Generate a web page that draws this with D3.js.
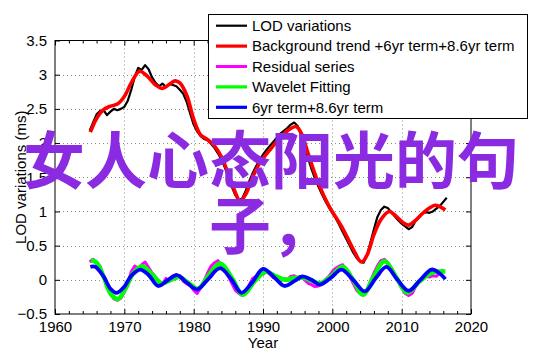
<!DOCTYPE html>
<html><head><meta charset="utf-8">
<script src="https://cdn.jsdelivr.net/npm/d3@7"></script>
<style>
html,body{margin:0;padding:0;background:#fff;}
svg{display:block;}
</style></head>
<body>
<svg id="c" width="542" height="356"></svg>
<script>
// ---------- data ----------
const xTicks = [1960,1970,1980,1990,2000,2010,2020];
const xMinorTicks = [1962,1964,1966,1968,1972,1974,1976,1978,1982,1984,1986,1988,1992,1994,1996,1998,2002,2004,2006,2008,2012,2014,2016,2018];
const yTicks = [-0.5,0,0.5,1,1.5,2,2.5,3,3.5];
const yTickLabels = ["\u22120.5","0","0.5","1","1.5","2","2.5","3","3.5"];
const legendLabels = ["LOD variations","Background trend +6yr term+8.6yr term","Residual series","Wavelet Fitting","6yr term+8.6yr term"];
const seriesColors = ["#000000","#ff0000","#ff00ff","#00ff00","#0000ff"];
const overlayText = ["女人心态阳光的句","子，"];

// LOD variations, half-year samples 1965 .. 2016.5
const lodYears = d3.range(1965, 2016.51, 0.5);
const lodValues = [2.18,2.30,2.42,2.47,2.48,2.41,2.46,2.50,2.48,2.50,2.53,2.62,2.78,2.97,3.10,3.07,3.14,3.08,2.96,2.88,
2.83,2.87,2.82,2.86,2.85,2.83,2.78,2.72,2.60,2.43,2.27,2.17,2.10,2.06,2.04,1.99,1.93,1.85,1.76,1.64,
1.50,1.36,1.24,1.16,1.19,1.30,1.44,1.56,1.66,1.75,1.83,1.90,1.96,2.02,2.08,2.14,2.18,2.22,2.27,2.30,
2.25,2.12,1.95,1.78,1.62,1.48,1.36,1.25,1.15,1.06,0.98,0.90,0.80,0.70,0.60,0.50,0.40,0.32,0.27,0.25,
0.36,0.55,0.74,0.92,1.02,1.07,1.05,0.99,0.93,0.87,0.82,0.78,0.74,0.77,0.86,0.92,0.97,0.99,0.98,1.00,
1.04,1.08,1.14,1.20];

// Background trend + 6yr + 8.6yr
const trendYears = [1965.1,1966,1967,1968,1969,1970,1971,1972.2,1973.3,1974.5,1975.5,1976.5,1977.3,1978,1979,1980,1981,1982,1983,1984,1985,1986,1986.7,1987.5,1988.5,1989.6,1991,1992.5,1993.8,1994.8,1995.5,1996.5,1998,1999.5,2001.5,2003,2004.2,2005,2006,2007,2008.2,2009.3,2010.3,2011,2012,2013,2014,2014.8,2015.5,2016.3];
const trendValues = [2.16,2.36,2.49,2.54,2.57,2.68,2.88,3.05,2.98,2.85,2.80,2.86,2.91,2.88,2.70,2.35,2.12,2.05,1.96,1.80,1.55,1.28,1.15,1.25,1.50,1.72,1.90,2.08,2.20,2.24,2.15,1.85,1.41,1.08,0.75,0.45,0.26,0.36,0.66,0.88,1.00,0.92,0.83,0.80,0.87,0.97,1.05,1.09,1.07,1.02];

// Residual series, half-year samples 1965 .. 2016
const resYears = d3.range(1965, 2016.01, 0.5);
const resValues = [0.26,0.30,0.24,0.20,0.05,-0.10,-0.20,-0.28,-0.30,-0.27,-0.18,-0.05,0.12,0.20,0.17,0.22,0.26,0.18,0.10,0.04,
-0.03,-0.06,0.02,-0.02,0.05,0.02,0.06,-0.02,-0.06,-0.08,-0.15,-0.20,-0.12,-0.02,0.10,0.20,0.25,0.28,0.20,0.14,
0.05,-0.05,-0.15,-0.20,-0.23,-0.17,-0.08,0.02,0.05,0.10,0.08,0.12,0.08,0.03,0.05,-0.02,0.02,0.00,0.05,0.06,
0.02,0.05,0.00,-0.05,-0.07,-0.10,-0.09,-0.06,0.00,0.05,0.12,0.17,0.20,0.22,0.15,0.05,-0.05,-0.15,-0.20,-0.22,
-0.15,-0.02,0.10,0.20,0.28,0.30,0.25,0.18,0.08,-0.02,-0.12,-0.20,-0.23,-0.20,-0.10,-0.03,0.02,0.06,0.04,0.06,
0.05,0.10,0.15];

// Wavelet fitting
const waveYears = [1965.2,1966,1967,1968,1969.1,1970.2,1971.3,1972.6,1974,1975.4,1976.7,1977.9,1979.2,1980.6,1982.2,1983.8,1985.5,1987.1,1988.8,1990.4,1991.7,1993.2,1994.6,1995.8,1997,1998.3,1999.9,2001.5,2003,2004.4,2006,2007.5,2009.2,2010.8,2012.5,2014.3,2015.3,2016.3];
const waveValues = [0.29,0.25,0.05,-0.20,-0.28,-0.12,0.10,0.20,0.08,-0.05,0.00,0.04,-0.04,-0.13,0.07,0.24,0.03,-0.22,-0.02,0.12,0.06,0.00,0.03,0.03,-0.01,-0.05,0.06,0.19,0.00,-0.22,0.05,0.27,0.04,-0.19,-0.03,0.10,0.12,0.12];

// 6yr term + 8.6yr term
const termYears = [1965.1,1965.8,1967,1968,1968.9,1970,1971,1972.3,1973.5,1974.9,1976.2,1977.6,1979,1980.5,1982,1983.8,1985.4,1986.9,1988.5,1990,1991.5,1993.1,1994.5,1995.7,1997,1998.2,1999.8,2001.3,2003,2004.7,2006.3,2007.8,2009.4,2011,2012.7,2014.3,2015.4,2016.3];
const termValues = [0.19,0.19,0.05,-0.13,-0.19,-0.10,0.06,0.15,0.07,-0.09,-0.01,0.07,-0.04,-0.14,0.00,0.17,0.01,-0.19,-0.03,0.16,0.05,-0.09,-0.02,0.05,0.00,-0.07,0.03,0.15,0.00,-0.17,0.03,0.19,0.00,-0.16,0.00,0.15,0.10,0.01];

// ---------- layout ----------
const W = 542, H = 356;
const m = {left:55, right:471, top:40.5, bottom:314};
const svg = d3.select("#c");
const x = d3.scaleLinear().domain([1960,2020]).range([m.left, m.right]);
const y = d3.scaleLinear().domain([-0.5,3.5]).range([m.bottom, m.top]);
const FONT = "'Liberation Sans', Arial, Helvetica, sans-serif";

svg.append("rect").attr("width",W).attr("height",H).attr("fill","#fff");

// grid
const grid = svg.append("g").attr("stroke","#8c8c8c").attr("stroke-width",1).attr("stroke-dasharray","1,3");
xTicks.slice(1,-1).forEach(t=>{
  grid.append("line").attr("x1",Math.round(x(t))+0.5).attr("x2",Math.round(x(t))+0.5).attr("y1",m.top).attr("y2",m.bottom);
});
yTicks.slice(1,-1).forEach(t=>{
  grid.append("line").attr("y1",Math.round(y(t))+0.5).attr("y2",Math.round(y(t))+0.5).attr("x1",m.left).attr("x2",m.right);
});

// axes via d3 axis generators
const axB = d3.axisBottom(x).tickValues(xTicks).tickSize(-5).tickPadding(7).tickFormat(d3.format("d"));
const axT = d3.axisTop(x).tickValues(xTicks).tickSize(-5).tickFormat("");
const axBm = d3.axisBottom(x).tickValues(xMinorTicks).tickSize(-3).tickFormat("");
const axTm = d3.axisTop(x).tickValues(xMinorTicks).tickSize(-3).tickFormat("");
const axL = d3.axisLeft(y).tickValues(yTicks).tickSize(-5).tickPadding(8).tickFormat((d,i)=>yTickLabels[i]);
const axR = d3.axisRight(y).tickValues(yTicks).tickSize(-5).tickFormat("");

function styleAxis(g){
  g.select(".domain").remove();
  g.selectAll(".tick line").attr("stroke","#000");
  g.selectAll("text").attr("font-family",FONT).attr("font-size","15px").attr("fill","#000");
}
svg.append("g").attr("transform",`translate(0,${m.bottom})`).call(axB).call(styleAxis)
  .selectAll("text").attr("dy","0.71em");
svg.append("g").attr("transform",`translate(0,${m.bottom})`).call(axBm).call(styleAxis);
svg.append("g").attr("transform",`translate(0,${m.top})`).call(axT).call(styleAxis);
svg.append("g").attr("transform",`translate(0,${m.top})`).call(axTm).call(styleAxis);
svg.append("g").attr("transform",`translate(${m.left},0)`).call(axL).call(styleAxis);
svg.append("g").attr("transform",`translate(${m.right},0)`).call(axR).call(styleAxis);

// frame
svg.append("rect").attr("x",m.left).attr("y",m.top).attr("width",m.right-m.left).attr("height",m.bottom-m.top)
  .attr("fill","none").attr("stroke","#000").attr("stroke-width",1);

// axis titles
svg.append("text").attr("x",x(1990)).attr("y",348).attr("text-anchor","middle")
  .attr("font-family",FONT).attr("font-size","15px").text("Year");
svg.append("text").attr("transform",`translate(26,${(m.top+m.bottom)/2}) rotate(-90)`).attr("text-anchor","middle")
  .attr("font-family",FONT).attr("font-size","15px").text("LOD variations (ms)");

// series
const plot = svg.append("g");
const lineLin = d3.line().x(d=>x(d[0])).y(d=>y(d[1]));
const lineSmooth = d3.line().x(d=>x(d[0])).y(d=>y(d[1])).curve(d3.curveCatmullRom.alpha(0.5));
const zip = (a,b)=>a.map((v,i)=>[v,b[i]]);

plot.append("path").datum(zip(lodYears,lodValues)).attr("d",lineLin)
  .attr("fill","none").attr("stroke",seriesColors[0]).attr("stroke-width",2.2).attr("stroke-linejoin","round");
plot.append("path").datum(zip(trendYears,trendValues)).attr("d",lineSmooth)
  .attr("fill","none").attr("stroke",seriesColors[1]).attr("stroke-width",3.6).attr("stroke-linejoin","round");
plot.append("path").datum(zip(resYears,resValues)).attr("d",lineLin)
  .attr("fill","none").attr("stroke",seriesColors[2]).attr("stroke-width",3).attr("stroke-linejoin","round");
plot.append("path").datum(zip(waveYears,waveValues)).attr("d",lineSmooth)
  .attr("fill","none").attr("stroke",seriesColors[3]).attr("stroke-width",4.5).attr("stroke-linejoin","round");
plot.append("path").datum(zip(termYears,termValues)).attr("d",lineSmooth)
  .attr("fill","none").attr("stroke",seriesColors[4]).attr("stroke-width",3.8).attr("stroke-linejoin","round");

// legend
const lg = svg.append("g");
lg.append("rect").attr("x",208.5).attr("y",14.5).attr("width",319).attr("height",104)
  .attr("fill","#fff").attr("stroke","#000").attr("stroke-width",1);
const legW = [2.2,3.6,3,4,3.8];
legendLabels.forEach((lab,i)=>{
  const cy = 25.7 + i*20.4;
  lg.append("line").attr("x1",216).attr("x2",247).attr("y1",cy).attr("y2",cy)
    .attr("stroke",seriesColors[i]).attr("stroke-width",Math.min(legW[i],3.2));
  lg.append("text").attr("x",252).attr("y",cy+5.3).attr("font-family",FONT).attr("font-size","15px").text(lab);
});

// overlay text
const ov = svg.append("g").attr("font-family","'Noto Sans CJK SC', sans-serif").attr("font-size","62px")
  .attr("font-weight","bold").attr("fill","#8a2be2").attr("text-anchor","middle");
overlayText.forEach((t,i)=>{
  ov.append("text").attr("x",W/2).attr("y",184 + i*65).text(t);
});
</script>
</body></html>
